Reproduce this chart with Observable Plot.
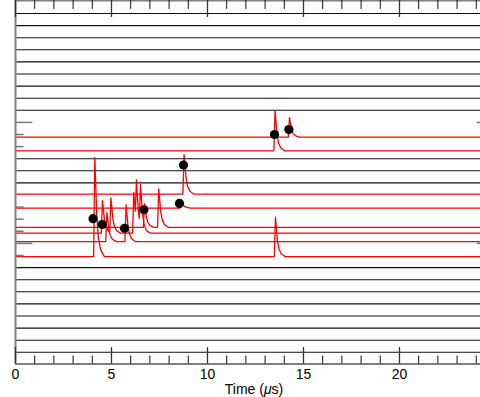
<!DOCTYPE html>
<html><head><meta charset="utf-8">
<script src="https://cdn.jsdelivr.net/npm/d3@7"></script>
<script src="https://cdn.jsdelivr.net/npm/@observablehq/plot@0.6"></script>
<style>body{margin:0;background:#fff}svg{display:block}</style>
</head><body><div id="chart"></div>
<script>
// ---- data ----
// channel levels (0 = top channel, increasing downward) drawn as plain black lines
const gridLevels = [0,1,2,3,4,5,6,7,8,12,13,14,21,22,23,24,25,26,27,28];
// red waveform traces: baseline level of each trace
const traceBaselines = [10.21, 11.35, 14.92, 16.08, 17.67, 18.15, 18.85, 20.09];
// pulses on each trace: [time (µs), amplitude (channel units)]
const tracePulses = [
  [[14.27, 1.61]],
  [[13.52, 3.33]],
  [[8.78, 3.26]],
  [[8.62, 0.70]],
  [[6.72, 1.96], [7.46, 3.18]],
  [[4.53, 2.70], [4.97, 2.86], [6.16, 3.36], [6.30, 3.36], [6.51, 3.28]],
  [[4.76, 2.40], [5.76, 3.04]],
  [[4.13, 8.18], [13.54, 3.25]]
];
// pulse shape: [time offset (µs), fraction of amplitude]
const pulseShape = [[-0.06,0],[0,1],[0.05,0.72],[0.1,0.42],[0.18,0.2],[0.3,0.07],[0.5,0]];
// black markers
const dotTimes  = [4.04, 4.52, 5.68, 6.69, 8.54, 8.75, 13.49, 14.24];
const dotLevels = [16.96, 17.44, 17.75, 16.22, 15.70, 12.52, 10.00, 9.59];
// y-axis side ticks
const sideTickLevels = [9, 10, 11, 16, 17, 18, 19, 20];
const sideTickLong   = [9, 19];
// x ticks
const xMinorTicks = [0,1,2,3,4,5,6,7,8,9,10,11,12,13,14,15,16,17,18,19,20,21,22,23,24];
const xMajorTicks = [0,5,10,15,20];
const xLabel = ["Time (", "μ", "s)"];

// ---- build ----
const X0 = 0, X1 = 24.22, YB = 28.967, YT = -1.074;
function shapeAt(dt) {
  if (dt <= pulseShape[0][0] || dt >= pulseShape[pulseShape.length-1][0]) return 0;
  for (let i = 1; i < pulseShape.length; i++) {
    const [a, fa] = pulseShape[i-1], [b, fb] = pulseShape[i];
    if (dt <= b) return fa + (fb - fa) * (dt - a) / (b - a);
  }
  return 0;
}
const traceRows = [];
traceBaselines.forEach((base, i) => {
  const ts = new Set([X0, X1]);
  tracePulses[i].forEach(([tp]) => pulseShape.forEach(([dt]) => ts.add(+(tp + dt).toFixed(4))));
  [...ts].sort((a,b)=>a-b).forEach(t => {
    let v = base;
    tracePulses[i].forEach(([tp, amp]) => { v -= amp * shapeAt(t - tp); });
    traceRows.push({trace: i, t, k: v});
  });
});
const dots = dotTimes.map((t, i) => ({t, k: dotLevels[i]}));
const sideTicks = sideTickLevels.map(k => ({k, long: sideTickLong.includes(k)}));

const font = "'Liberation Sans', Arial, Helvetica, sans-serif";
const chart = Plot.plot({
  width: 480, height: 397,
  marginLeft: 15, marginRight: 0, marginTop: 0, marginBottom: 33.5,
  style: {fontFamily: font, background: "#fff", overflow: "visible"},
  x: {domain: [X0, X1], axis: null},
  y: {domain: [YB, YT], axis: null},
  marks: [
    Plot.ruleY(gridLevels, {stroke: "#111", strokeWidth: 1.1}),
    Plot.line(traceRows, {x: "t", y: "k", z: "trace", stroke: "#ff0000", strokeWidth: 1.3}),
    // frame
    Plot.ruleX([X0], {stroke: "#808080", strokeWidth: 2}),
    Plot.ruleY([YB], {stroke: "#808080", strokeWidth: 2}),
    Plot.ruleY([YT], {stroke: "#808080", strokeWidth: 2}),
    // side ticks
    Plot.ruleY(sideTicks, {y: "k", x1: X0, x2: d => d.long ? 0.9 : 0.45, stroke: "#777", strokeWidth: 1.5}),
    Plot.ruleY(sideTicks.filter(d => d.long), {y: "k", x1: 24.05, x2: X1, stroke: "#777", strokeWidth: 1.5}),
    // x ticks bottom and top
    Plot.ruleX(xMinorTicks.filter(t => !xMajorTicks.includes(t)), {x: d => d, y1: YB, y2: YB - 0.66, stroke: "#111", strokeWidth: 1}),
    Plot.ruleX(xMinorTicks.filter(t => !xMajorTicks.includes(t)), {x: d => d, y1: YT, y2: YT + 0.74, stroke: "#111", strokeWidth: 1}),
    Plot.ruleX(xMajorTicks, {x: d => d, y1: YB, y2: YB - 1.36, stroke: "#333", strokeWidth: 1.3}),
    Plot.ruleX(xMajorTicks, {x: d => d, y1: YT, y2: YT + 1.4, stroke: "#333", strokeWidth: 1.3}),
    Plot.text(xMajorTicks, {x: d => d, y: YB, text: d => String(d), dy: 5, lineAnchor: "top", fontSize: 14, fill: "#000"}),
    // markers
    Plot.dot(dots, {x: "t", y: "k", r: 4.6, fill: "#000", stroke: "none"})
  ]
});
document.getElementById("chart").append(chart);
const svg = d3.select(chart);
const lbl = svg.append("text").attr("x", 254).attr("y", 393.5).attr("text-anchor", "middle")
  .attr("font-family", font).attr("font-size", 14).attr("fill", "#000");
lbl.append("tspan").text(xLabel[0]);
lbl.append("tspan").attr("font-style", "italic").text(xLabel[1]);
lbl.append("tspan").text(xLabel[2]);
</script></body></html>
